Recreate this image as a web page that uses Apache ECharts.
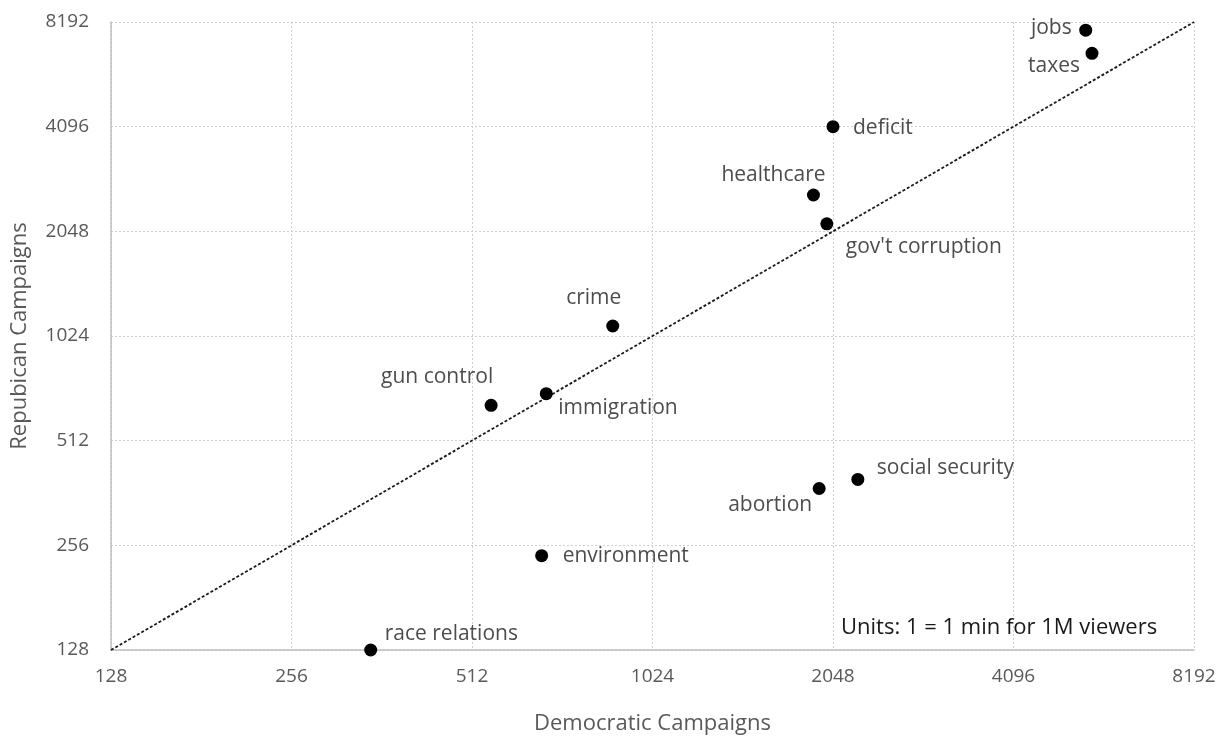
<!DOCTYPE html>
<html>
<head>
<meta charset="utf-8">
<script src="https://cdn.jsdelivr.net/npm/echarts@6/dist/echarts.min.js"></script>
<style>
  html, body { margin: 0; padding: 0; background: #fff; }
  #chart { width: 1219px; height: 740px; }
</style>
</head>
<body>
<div id="chart"></div>
<script>
// Issue coverage by campaign (log2 scale on both axes)
const issues = ['jobs', 'taxes', 'deficit', 'healthcare', "gov't corruption", 'crime',
  'gun control', 'immigration', 'social security', 'abortion', 'environment', 'race relations'];
const democratic = [5405, 5537, 2048, 1900, 2000, 879, 551, 681, 2253, 1942, 669, 347];
const republican = [7758, 6657, 4096, 2605, 2152, 1094, 647, 699, 396, 373, 239, 128];
const tickValues = [128, 256, 512, 1024, 2048, 4096, 8192];

// label anchor offsets from each dot: [dx, dy, align]
const labelPlacement = [
  [-14, -2, 'right'], [-12, 13, 'right'], [20, 1, 'left'], [-40, -20, 'center'],
  [19, 23, 'left'], [-19, -28, 'center'], [-54, -28, 'center'], [12, 14, 'left'],
  [19, -11, 'left'], [-7, 17, 'right'], [21, 0, 'left'], [14, -16, 'left']
];

const FONT = '"Open Sans", sans-serif';
const DOT = 13;

const points = issues.map((name, i) => {
  const [dx, dy, align] = labelPlacement[i];
  return {
    name: name,
    value: [democratic[i], republican[i]],
    label: {
      show: true,
      formatter: name,
      position: [DOT / 2 + dx, DOT / 2 + dy],
      align: align,
      verticalAlign: 'middle'
    }
  };
});

const fmt = v => String(Math.round(v));

const chart = echarts.init(document.getElementById('chart'), null, { renderer: 'canvas' });
chart.setOption({
  animation: false,
  backgroundColor: '#ffffff',
  textStyle: { fontFamily: FONT },
  grid: { left: 111, right: 25, top: 22, bottom: 84 },
  xAxis: {
    type: 'log',
    logBase: 2,
    min: tickValues[0],
    max: tickValues[tickValues.length - 1],
    interval: 1,
    name: 'Democratic Campaigns',
    nameLocation: 'middle',
    nameGap: 63,
    nameTextStyle: { color: '#595959', fontSize: 22, fontFamily: FONT },
    axisLine: { show: true, lineStyle: { color: '#bfbfbf', width: 1.5 } },
    axisTick: { show: false },
    axisLabel: { color: '#595959', fontSize: 19, margin: 17, formatter: fmt, fontFamily: FONT },
    splitLine: { show: true, lineStyle: { color: '#cfcfcf', type: [2, 2], width: 1 } }
  },
  yAxis: {
    type: 'log',
    logBase: 2,
    min: tickValues[0],
    max: tickValues[tickValues.length - 1],
    interval: 1,
    name: 'Repubican Campaigns',
    nameLocation: 'middle',
    nameGap: 80,
    nameTextStyle: { color: '#595959', fontSize: 22, fontFamily: FONT },
    axisLine: { show: true, lineStyle: { color: '#bfbfbf', width: 1.5 } },
    axisTick: { show: false },
    axisLabel: { color: '#595959', fontSize: 19, margin: 22, formatter: fmt, fontFamily: FONT },
    splitLine: { show: true, lineStyle: { color: '#cfcfcf', type: [2, 2], width: 1 } }
  },
  graphic: [{
    type: 'text',
    left: 841,
    top: 617,
    style: {
      text: 'Units: 1 = 1 min for 1M viewers',
      fill: '#1a1a1a',
      font: '22px "Open Sans", sans-serif'
    },
    z: 10
  }],
  series: [
    {
      name: 'parity',
      type: 'line',
      data: [[tickValues[0], tickValues[0]], [tickValues[tickValues.length - 1], tickValues[tickValues.length - 1]]],
      symbol: 'none',
      lineStyle: { color: '#1a1a1a', width: 1.8, type: [3, 2] },
      silent: true,
      z: 2
    },
    {
      name: 'issues',
      type: 'scatter',
      symbol: 'circle',
      symbolSize: DOT,
      itemStyle: { color: '#000000', opacity: 1 },
      label: { color: '#4d4d4d', fontSize: 21, fontFamily: FONT },
      data: points,
      z: 3
    }
  ]
});
</script>
</body>
</html>
